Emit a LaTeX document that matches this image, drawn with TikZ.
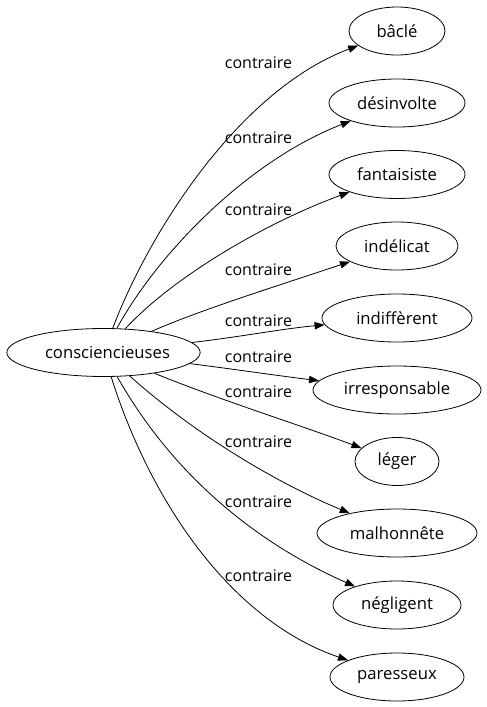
\documentclass[tikz,border=0pt]{standalone}
\usepackage{fontspec}
\setmainfont{Open Sans}
\usetikzlibrary{shapes.geometric,arrows.meta}
\begin{document}
\begin{tikzpicture}[x=0.75pt,y=-0.75pt,
  ell/.style={ellipse,draw,inner sep=0pt,minimum height=36pt,font=\fontsize{12.5}{14}\selectfont},
  lbl/.style={font=\fontsize{12}{14}\selectfont,inner sep=0pt},
  arr/.style={-{Triangle[length=7.5pt,width=5.5pt]},line width=0.6pt},
  every node/.append style={line width=0.6pt}]
\useasboundingbox (0,0) rectangle (486,707);
\node[ell,minimum width=145pt] (m) at (103.5,352.5) {\hspace*{6pt}consciencieuses};
\node[ell,minimum width=72pt] (t1) at (397,31) {bâclé};
\node[ell,minimum width=102pt] (t2) at (397,103) {désinvolte};
\node[ell,minimum width=102pt] (t3) at (397,174.5) {fantaisiste};
\node[ell,minimum width=91.5pt] (t4) at (397,246) {indélicat};
\node[ell,minimum width=112.5pt] (t5) at (397,318) {indiffèrent};
\node[ell,minimum width=126pt] (t6) at (397,390) {irresponsable};
\node[ell,minimum width=63pt] (t7) at (397,461.5) {léger};
\node[ell,minimum width=120pt] (t8) at (397,533) {malhonnête};
\node[ell,minimum width=96pt] (t9) at (397,605) {négligent};
\node[ell,minimum width=100.5pt] (t10) at (397,677) {paresseux};

\coordinate (a1) at (150,230); \coordinate (b1) at (240,90);
\coordinate (a2) at (160,250); \coordinate (b2) at (250,160);
\coordinate (a3) at (170,280); \coordinate (b3) at (260,225);
\coordinate (a4) at (200,310); \coordinate (b4) at (280,285);
\coordinate (a5) at (240,337); \coordinate (b5) at (280,329);
\coordinate (a6) at (240,370); \coordinate (b6) at (280,376);
\coordinate (a7) at (220,400); \coordinate (b7) at (300,425);
\coordinate (a8) at (190,430); \coordinate (b8) at (270,480);
\coordinate (a9) at (170,470); \coordinate (b9) at (250,540);
\coordinate (a10) at (150,500); \coordinate (b10) at (230,620);

\draw[arr] (m) .. controls (a1) and (b1) .. (t1);
\draw[arr] (m) .. controls (a2) and (b2) .. (t2);
\draw[arr] (m) .. controls (a3) and (b3) .. (t3);
\draw[arr] (m) .. controls (a4) and (b4) .. (t4);
\draw[arr] (m) .. controls (a5) and (b5) .. (t5);
\draw[arr] (m) .. controls (a6) and (b6) .. (t6);
\draw[arr] (m) .. controls (a7) and (b7) .. (t7);
\draw[arr] (m) .. controls (a8) and (b8) .. (t8);
\draw[arr] (m) .. controls (a9) and (b9) .. (t9);
\draw[arr] (m) .. controls (a10) and (b10) .. (t10);

\node[lbl] (l1) at (258.5,63) {contraire};
\node[lbl] (l2) at (258.5,138) {contraire};
\node[lbl] (l3) at (258.5,210) {contraire};
\node[lbl] (l4) at (258.5,270) {contraire};
\node[lbl] (l5) at (258.5,321) {contraire};
\node[lbl] (l6) at (258.5,357) {contraire};
\node[lbl] (l7) at (258.5,392) {contraire};
\node[lbl] (l8) at (258.5,442) {contraire};
\node[lbl] (l9) at (258.5,502) {contraire};
\node[lbl] (l10) at (258.5,576) {contraire};
\end{tikzpicture}
\end{document}
